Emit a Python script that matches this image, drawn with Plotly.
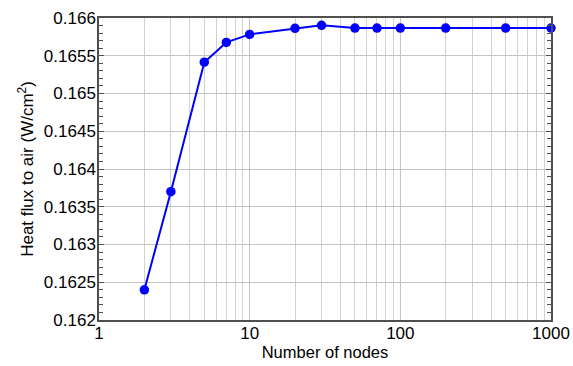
import plotly.graph_objects as go

nodes = [2, 3, 5, 7, 10, 20, 30, 50, 70, 100, 200, 500, 1000]
heat_flux = [0.16240, 0.16370, 0.165415, 0.165677, 0.165783, 0.165863,
             0.165903, 0.165867, 0.165867, 0.165867, 0.165867, 0.165867, 0.165867]
x_ticks = [1, 10, 100, 1000]
y_ticks = [0.162, 0.1625, 0.163, 0.1635, 0.164, 0.1645, 0.165, 0.1655, 0.166]

fig = go.Figure()
fig.add_trace(go.Scatter(
    x=nodes, y=heat_flux, mode="lines+markers",
    line=dict(color="#0000ff", width=2),
    marker=dict(color="#0000ff", size=9.5),
    cliponaxis=False, showlegend=False,
))

font = dict(family="Liberation Sans, Arial, sans-serif", size=16, color="#000000")
fig.update_layout(
    width=573, height=366,
    margin=dict(l=99, r=22, t=18, b=46),
    paper_bgcolor="white", plot_bgcolor="white",
    font=font,
    xaxis=dict(
        type="log", range=[0, 3], automargin=False,
        tickvals=x_ticks, ticktext=[str(v) for v in x_ticks],
        showgrid=True, gridcolor="#c4c4c4", gridwidth=1,
        minor=dict(dtick="D1", showgrid=True, gridcolor="#d0d0d0", gridwidth=1, ticks=""),
        showline=True, linecolor="#505050", linewidth=1.5, mirror=True,
        ticks="", zeroline=False,
        ticklabelstandoff=-3,
        title=dict(text="Number of nodes", standoff=0, font=dict(size=16.5)),
        tickfont=dict(size=17),
    ),
    yaxis=dict(
        range=[0.162, 0.166], automargin=False,
        tickvals=y_ticks, ticktext=[f"{v:g}" for v in y_ticks],
        showgrid=True, gridcolor="#c4c4c4", gridwidth=1,
        showline=True, linecolor="#505050", linewidth=1.5, mirror="ticks",
        ticks="inside", ticklen=5, tickcolor="#505050",
        minor=dict(dtick=0.0001, ticks="inside", ticklen=4, tickcolor="#505050", showgrid=False),
        zeroline=False,
        ticklabelstandoff=-2,
        title=dict(text="Heat flux to air (W/cm<sup>2</sup>)", standoff=6, font=dict(size=17)),
        tickfont=dict(size=17),
    ),
)
fig.write_html("out.html", config={"displayModeBar": False},
               post_script="document.body.style.margin='0';")
